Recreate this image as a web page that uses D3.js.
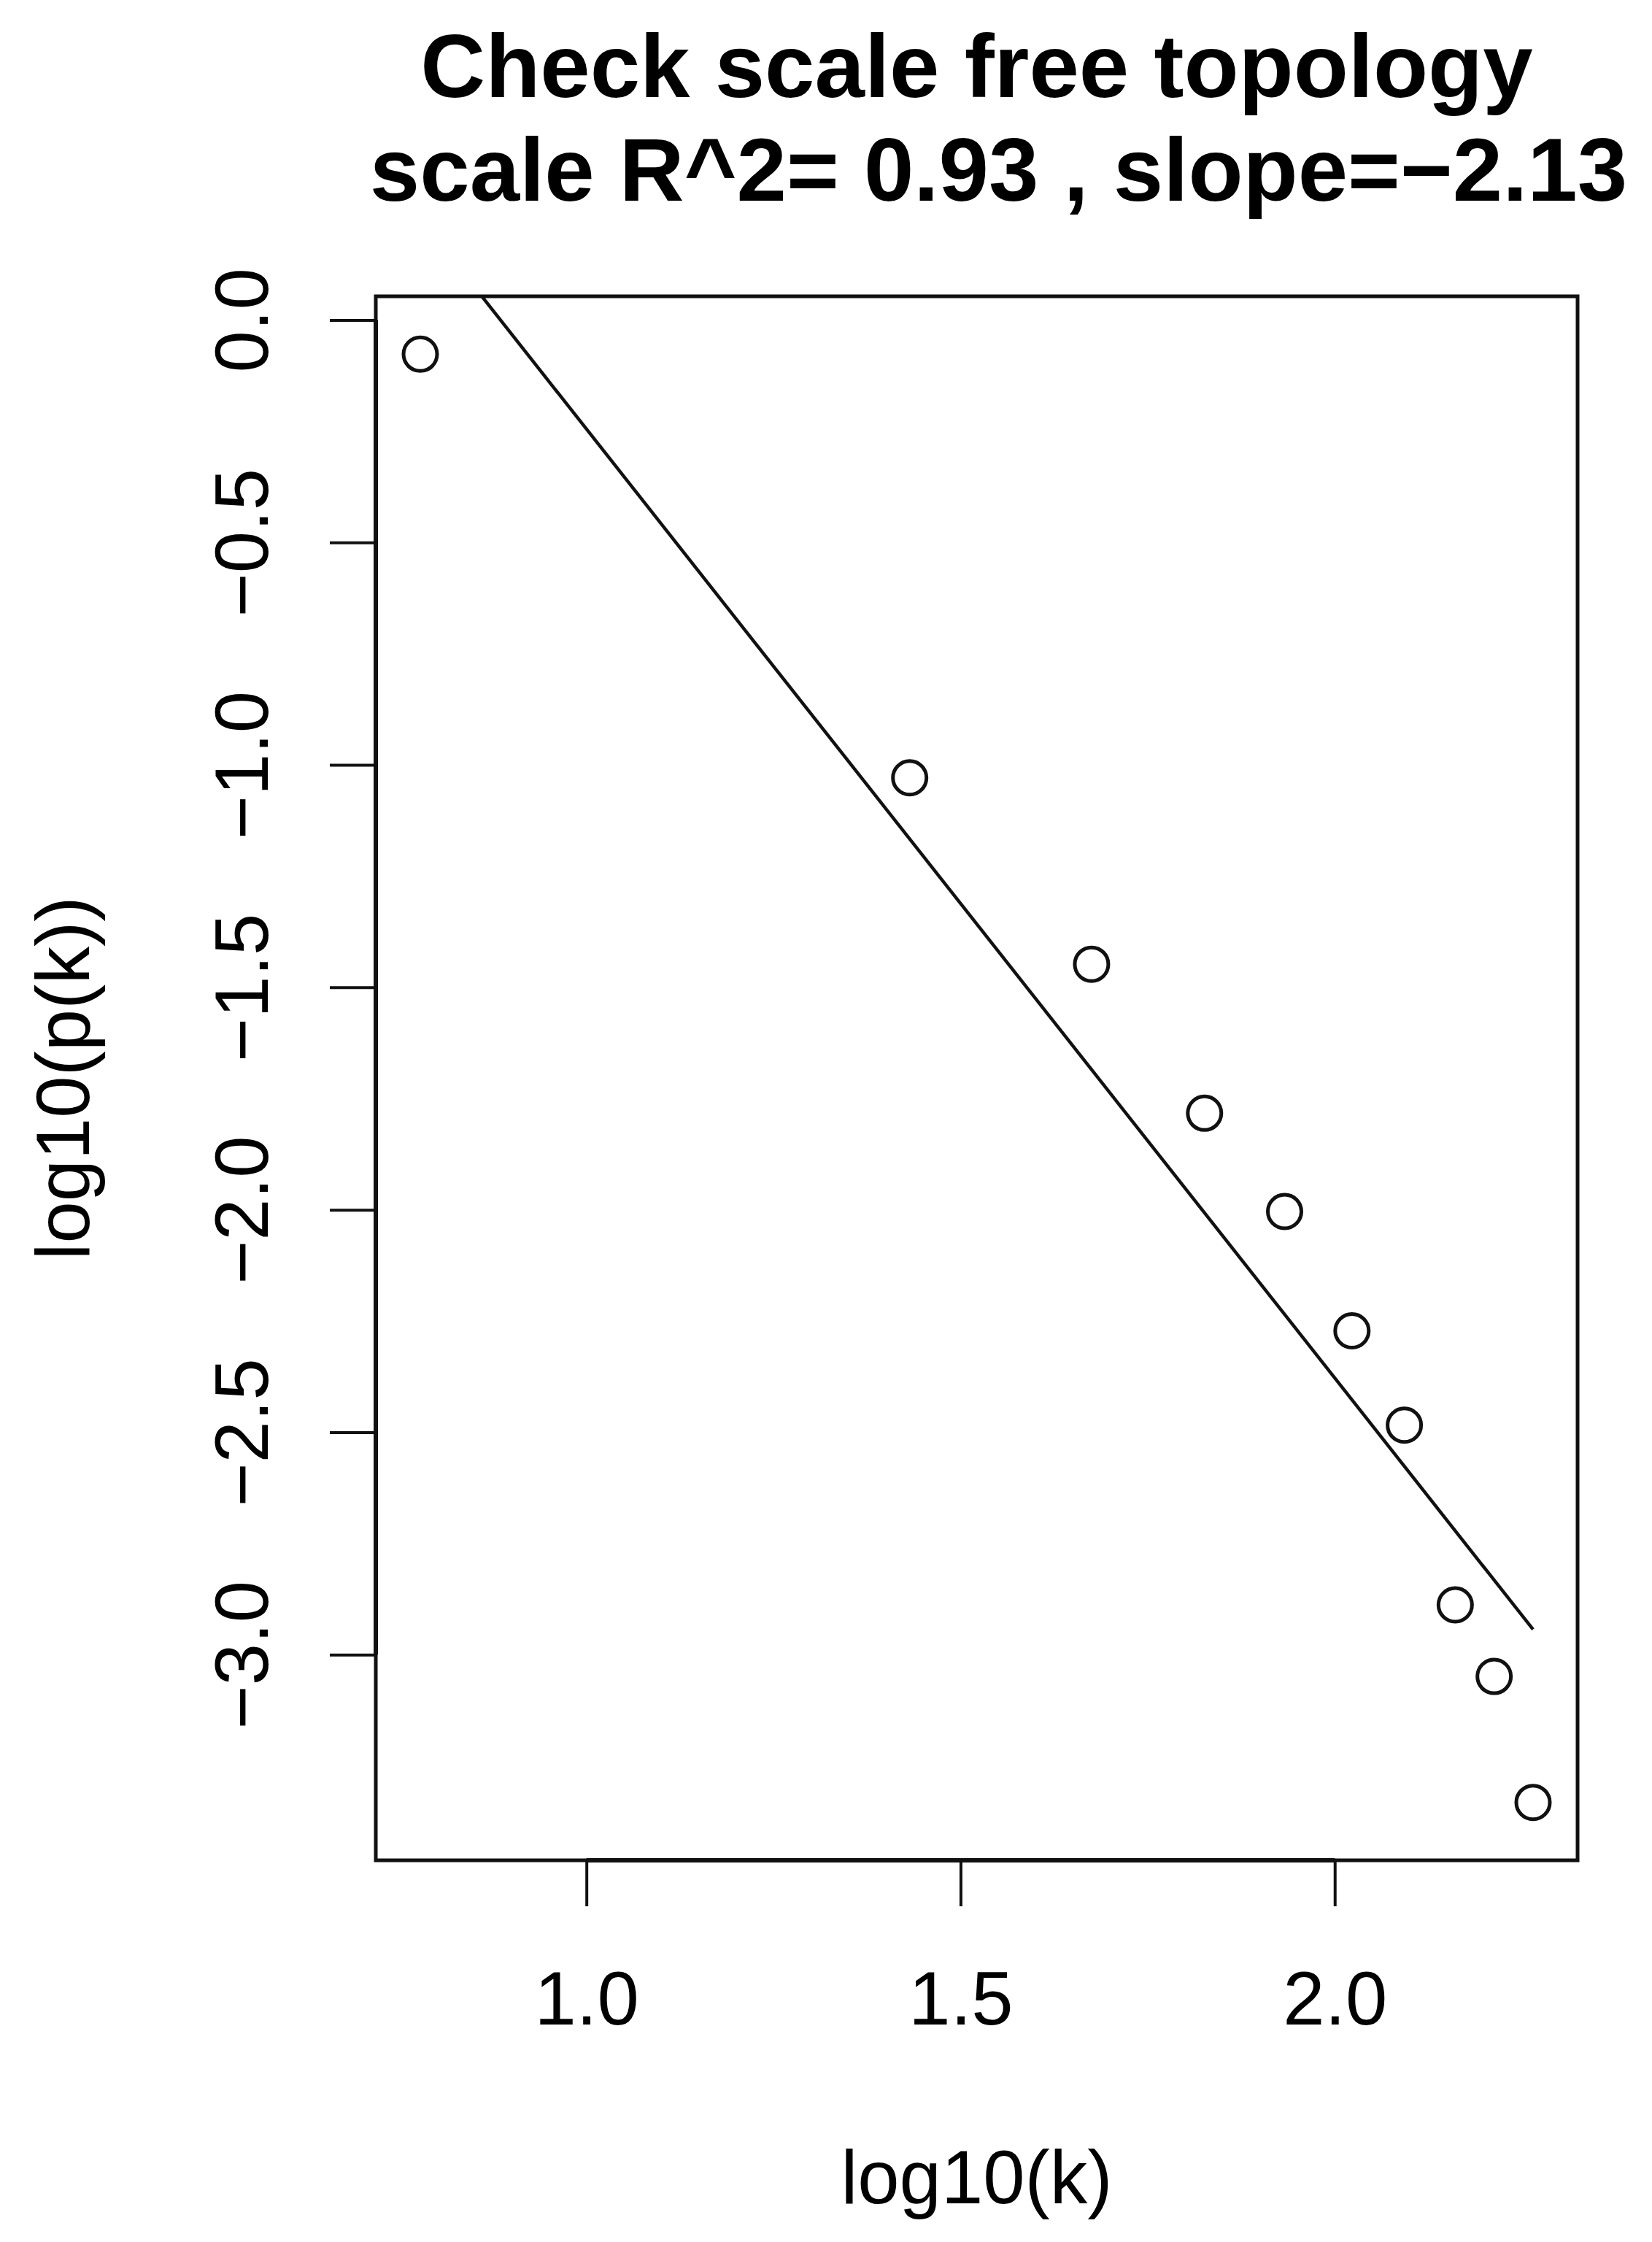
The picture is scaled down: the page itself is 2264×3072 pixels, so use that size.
<!DOCTYPE html>
<html>
<head>
<meta charset="utf-8">
<script src="https://cdn.jsdelivr.net/npm/d3@7"></script>
<style>
  body { margin: 0; background: #fff; }
  svg text { font-family: "Liberation Sans", Arial, Helvetica, sans-serif; fill: #000; }
</style>
</head>
<body>
<div id="chart"></div>
<script>
// values
const logK = [0.778, 1.432, 1.675, 1.826, 1.933, 2.023, 2.093, 2.161, 2.213, 2.265];
const logPk = [-0.077, -1.029, -1.448, -1.783, -2.004, -2.272, -2.484, -2.888, -3.049, -3.332];
const xTicks = [1.0, 1.5, 2.0];
const yTicks = [0.0, -0.5, -1.0, -1.5, -2.0, -2.5, -3.0];
const titleLines = ["Check scale free topology", "scale R^2= 0.93 , slope=\u22122.13"];
const xLabel = "log10(k)";
const yLabel = "log10(p(k))";

const width = 2264, height = 3072;
const margin = {left: 515, right: 102, top: 406, bottom: 523};
const plotW = width - margin.left - margin.right;
const plotH = height - margin.top - margin.bottom;

// R pads the data range by 4% on each side
function rPad(ext){
    const d = (ext[1] - ext[0]) * 0.04;
    return [ext[0] - d, ext[1] + d];
}

const x = d3.scaleLinear()
    .domain(rPad(d3.extent(logK)))
    .range([margin.left, margin.left + plotW]);
const y = d3.scaleLinear()
    .domain(rPad(d3.extent(logPk)))
    .range([margin.top + plotH, margin.top]);

const pts = logK.map((k, i) => ({x: k, y: logPk[i]}));

// simple least squares fit, like lm(log.p.dk ~ log.dk)
const mx = d3.mean(logK), my = d3.mean(logPk);
let sxy = 0, sxx = 0;
pts.forEach(p => {
    sxy += (p.x - mx) * (p.y - my);
    sxx += (p.x - mx) * (p.x - mx);
});
const slope = sxy / sxx;
const intercept = my - slope * mx;

const svg = d3.select("#chart").append("svg")
    .attr("width", width)
    .attr("height", height)
    .attr("viewBox", [0, 0, width, height]);

svg.append("rect")
    .attr("width", width)
    .attr("height", height)
    .attr("fill", "#fff");

svg.append("clipPath")
    .attr("id", "plotClip")
  .append("rect")
    .attr("x", margin.left)
    .attr("y", margin.top)
    .attr("width", plotW)
    .attr("height", plotH);

// points
svg.append("g")
    .selectAll("circle")
    .data(pts)
    .join("circle")
    .attr("cx", d => x(d.x))
    .attr("cy", d => y(d.y))
    .attr("r", 23)
    .attr("fill", "none")
    .attr("stroke", "#111")
    .attr("stroke-width", 5);

// fitted line
const xr = d3.extent(logK);
svg.append("path")
    .attr("clip-path", "url(#plotClip)")
    .attr("d", d3.line()
        .x(d => x(d))
        .y(d => y(intercept + slope * d))(xr))
    .attr("fill", "none")
    .attr("stroke", "#111")
    .attr("stroke-width", 4.5);

// box
svg.append("rect")
    .attr("x", margin.left)
    .attr("y", margin.top)
    .attr("width", plotW)
    .attr("height", plotH)
    .attr("fill", "none")
    .attr("stroke", "#111")
    .attr("stroke-width", 5);

// x axis
const fmt = d3.format(".1f");
const gx = svg.append("g")
    .attr("transform", `translate(0,${margin.top + plotH})`)
    .call(d3.axisBottom(x)
        .tickValues(xTicks)
        .tickFormat(fmt)
        .tickSizeOuter(0)
        .tickSize(63));
gx.select(".domain").remove();
gx.selectAll(".tick line").attr("stroke", "#111").attr("stroke-width", 4);
gx.selectAll(".tick text")
    .attr("y", 2774 - (margin.top + plotH))
    .attr("dy", null)
    .attr("font-size", 103);
gx.append("line")
    .attr("x1", x(xTicks[0]))
    .attr("x2", x(xTicks[xTicks.length - 1]))
    .attr("stroke", "#111")
    .attr("stroke-width", 6);

// y axis, labels turned like R's las=0
const gy = svg.append("g")
    .attr("transform", `translate(${margin.left},0)`)
    .call(d3.axisLeft(y)
        .tickValues(yTicks)
        .tickFormat(fmt)
        .tickSizeOuter(0)
        .tickSize(63));
gy.select(".domain").remove();
gy.selectAll(".tick line").attr("stroke", "#111").attr("stroke-width", 4);
gy.selectAll(".tick text")
    .attr("x", null)
    .attr("dy", null)
    .attr("text-anchor", "middle")
    .attr("transform", `translate(${367 - margin.left},0) rotate(-90)`)
    .attr("font-size", 103);
gy.append("line")
    .attr("y1", y(yTicks[0]))
    .attr("y2", y(yTicks[yTicks.length - 1]))
    .attr("stroke", "#111")
    .attr("stroke-width", 6);

// axis titles
const cx = margin.left + plotW / 2;
const cy = margin.top + plotH / 2;
svg.append("text")
    .attr("x", cx)
    .attr("y", 3019)
    .attr("text-anchor", "middle")
    .attr("font-size", 103)
    .text(xLabel);
svg.append("text")
    .attr("transform", `translate(122,${cy}) rotate(-90)`)
    .attr("text-anchor", "middle")
    .attr("font-size", 103)
    .text(yLabel);

// main title
svg.selectAll(".title")
    .data(titleLines)
    .join("text")
    .attr("class", "title")
    .attr("x", (d, i) => cx + i * 30)
    .attr("y", (d, i) => 133 + i * 142)
    .attr("text-anchor", "middle")
    .attr("font-size", 123)
    .attr("font-weight", "bold")
    .text(d => d);
</script>
</body>
</html>
